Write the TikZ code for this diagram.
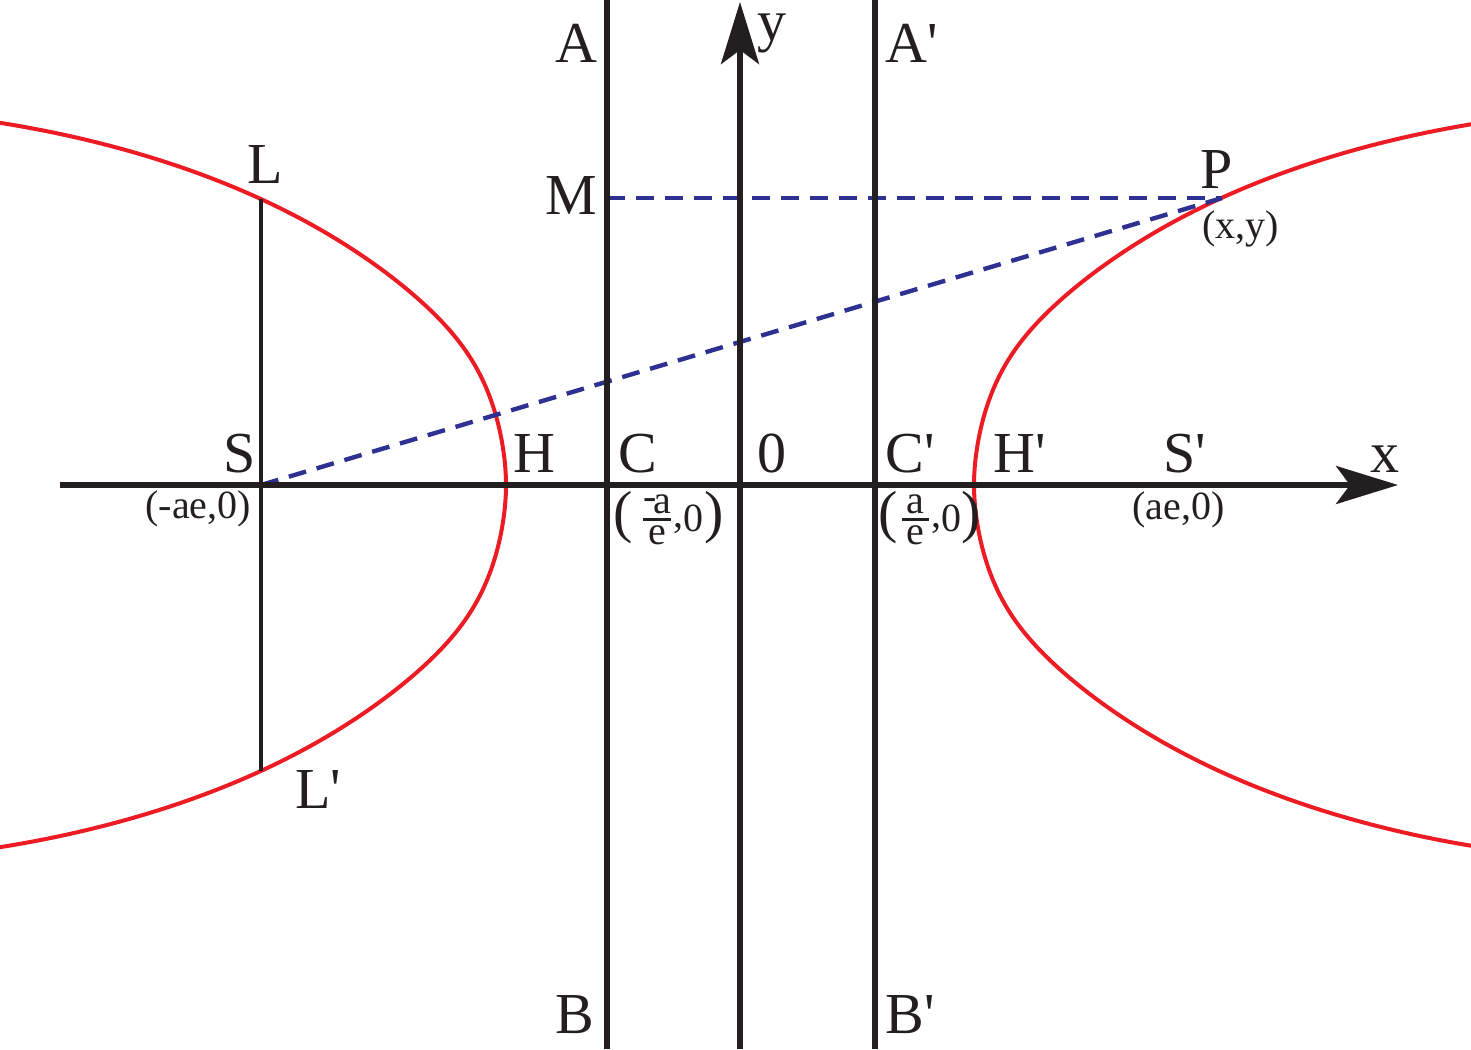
\documentclass[tikz,border=0pt]{standalone}
\usepackage{amsmath}
\usepackage{fontspec}
\setmainfont{Liberation Serif}
\setmonofont{Liberation Serif}
\usetikzlibrary{arrows.meta}
\definecolor{hred}{HTML}{ED1C24}
\definecolor{hblue}{HTML}{2E3192}
\definecolor{ink}{HTML}{231F20}
\newcommand\pr{\texttt{'}}
\newcommand\bigp[1]{{\fontsize{29}{29}\selectfont #1}}
\begin{document}
\begin{tikzpicture}[x=0.5pt,y=-0.5pt,
  axis/.style={line width=2.8pt, draw=ink},
  thinline/.style={line width=2pt, draw=ink},
  curve/.style={line width=2pt, draw=hred},
  dsh/.style={line width=2.2pt, draw=hblue, dash pattern=on 9pt off 5.5pt},
  big/.style={font=\fontsize{29}{29}\selectfont, inner sep=0pt, anchor=base west, text=ink},
  sml/.style={font=\fontsize{20}{20}\selectfont, inner sep=0pt, anchor=base west, text=ink},
  tip/.style={-{Stealth[length=31pt,width=19pt,inset=7pt]}}
]
\useasboundingbox (0,0) rectangle (1471,1049);

% hyperbola branches
\draw[curve] plot[domain=-23:23, samples=181, variable=\t]
  ({506-\t*\t}, {485-\t*sqrt(403.3-0.2847*\t*\t)-0.3*\t*abs(\t)*exp(1-\t*\t/30)});
\draw[curve] plot[domain=-23:23, samples=181, variable=\t]
  ({974+\t*\t}, {485-\t*sqrt(403.3-0.2847*\t*\t)-0.3*\t*abs(\t)*exp(1-\t*\t/30)});

% coordinates
\coordinate (xs) at (60,485);
\coordinate (xe) at (1398,485);
\coordinate (ys) at (740,1049);
\coordinate (ye) at (740,2);
\coordinate (Dt) at (607,0);
\coordinate (Db) at (607,1049);
\coordinate (Dpt) at (875,0);
\coordinate (Dpb) at (875,1049);
\coordinate (S) at (261,485);
\coordinate (L) at (261,199);
\coordinate (Lp) at (261,771);
\coordinate (M) at (607,198);
\coordinate (P) at (1222,198);

% latus rectum
\draw[thinline] (L) -- (Lp);

% dashed lines
\draw[dsh] (M) -- (P);
\draw[dsh] (S) -- (P);

% directrices and axes
\draw[axis] (Dt) -- (Db);
\draw[axis] (Dpt) -- (Dpb);
\draw[axis, tip] (xs) -- (xe);
\draw[axis, tip] (ys) -- (ye);

% labels
\node[big] (lA) at (555,62) {A};
\node[big] (lAp) at (885,62) {A\pr};
\node[big] (ly) at (757,40) {y};
\node[big] (lM) at (545,214) {M};
\node[big] (lL) at (247,183) {L};
\node[big] (lP) at (1200,188) {P};
\node[sml] (lxy) at (1202,238) {(x,y)};
\node[big] (lS) at (223,472) {S};
\node[big] (lH) at (513,472) {H};
\node[big] (lC) at (618,472) {C};
\node[big] (l0) at (757,472) {0};
\node[big] (lCp) at (885,472) {C\pr};
\node[big] (lHp) at (993,472) {H\pr};
\node[big] (lSp) at (1163,472) {S\pr};
\node[big] (lx) at (1370,472) {x};
\node[sml] (lSc) at (145,518) {(-ae,0)};
\node[sml] (lSpc) at (1132,519) {(ae,0)};
\node[big] (lLp) at (295,808) {L\pr};
\node[big] (lB) at (555,1033) {B};
\node[big] (lBp) at (885,1033) {B\pr};
\node[sml] (lCc) at (613,531) {\bigp{(}\hspace{4pt}\raisebox{0.5pt}{$\genfrac{}{}{1.4pt}{1}{\mbox{\raisebox{0.1em}{-}\kern-1.5pt a}}{\mbox{e}}$}\raisebox{2pt}{,}0\hspace{0.5pt}\bigp{)}};
\node[sml] (lCpc) at (878,531) {\bigp{(}\hspace{1pt}\raisebox{0.5pt}{$\genfrac{}{}{1.4pt}{1}{\mbox{\hspace{2.3pt}a\hspace{2.3pt}}}{\mbox{e}}$}\raisebox{2pt}{,}0\bigp{)}};
\end{tikzpicture}
\end{document}
